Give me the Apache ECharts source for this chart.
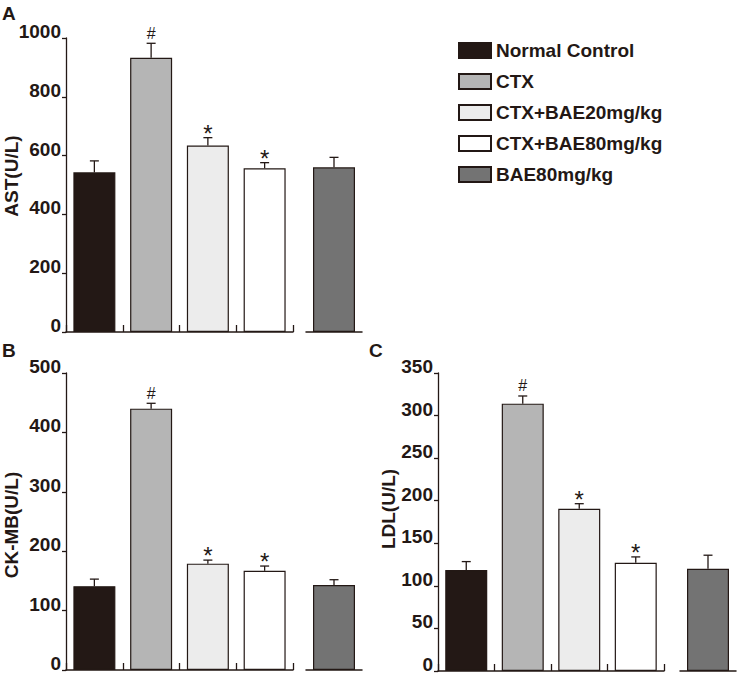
<!DOCTYPE html>
<html>
<head>
<meta charset="utf-8">
<script src="https://cdn.jsdelivr.net/npm/echarts@6/dist/echarts.min.js"></script>
<style>html,body{margin:0;padding:0;background:#fff}#c{width:738px;height:675px}</style>
</head>
<body>
<div id="c"></div>
<script>
// ---- data ----
const groups = ['Normal Control', 'CTX', 'CTX+BAE20mg/kg', 'CTX+BAE80mg/kg', 'BAE80mg/kg'];
const astValues = [543, 933, 634, 557, 560];
const astErrors = [39, 49, 27, 19, 34];
const ckmbValues = [141, 440, 179, 167, 143];
const ckmbErrors = [12, 9, 6, 8, 9];
const ldlValues = [118.5, 314, 190.5, 127, 120];
const ldlErrors = [10, 9, 6, 7, 16];
const marks = ['', '#', '*', '*', ''];
const panelLetters = ['A', 'B', 'C'];
const axisNames = ['AST(U/L)', 'CK-MB(U/L)', 'LDL(U/L)'];
const axisMax = [1000, 500, 350];
const axisStep = [200, 100, 50];

// ---- styles ----
const barColors = ['#231815', '#b5b5b5', '#ececec', '#ffffff', '#737373'];
const ink = '#231815';
const font = 'Liberation Sans, Arial, sans-serif';

const layouts = [
  { left: 66, top: 38, width: 227, height: 294, left2: 306, width2: 56, nameX: 11, nameY: 176, labelX: 2, labelY: 4 },
  { left: 66, top: 373, width: 227, height: 297, left2: 306, width2: 56, nameX: 11, nameY: 525, labelX: 2, labelY: 341 },
  { left: 438, top: 373, width: 226, height: 298, left2: 680, width2: 56, nameX: 388, nameY: 509, labelX: 369, labelY: 341 }
];
const panelData = [
  [astValues, astErrors],
  [ckmbValues, ckmbErrors],
  [ldlValues, ldlErrors]
];

const grid = [], xAxis = [], yAxis = [], series = [], title = [], graphic = [];

layouts.forEach((L, p) => {
  const [vals, errs] = panelData[p];
  const g1 = grid.length, g2 = g1 + 1;
  grid.push({ left: L.left, top: L.top, width: L.width, height: L.height, outerBoundsMode: 'none', containLabel: false });
  grid.push({ left: L.left2, top: L.top, width: L.width2, height: L.height, outerBoundsMode: 'none', containLabel: false });

  xAxis.push({
    type: 'category', gridIndex: g1, data: groups.slice(0, 4),
    axisLine: { lineStyle: { color: ink, width: 1.5 } },
    axisTick: { show: true, inside: true, length: 7, interval: 0, lineStyle: { color: ink, width: 1.3 } },
    axisLabel: { show: false }
  });
  xAxis.push({
    type: 'category', gridIndex: g2, data: groups.slice(4),
    axisLine: { lineStyle: { color: ink, width: 1.5 } },
    axisTick: { show: false }, axisLabel: { show: false }
  });

  const yCommon = { type: 'value', min: 0, max: axisMax[p], interval: axisStep[p], splitLine: { show: false } };
  yAxis.push(Object.assign({}, yCommon, {
    gridIndex: g1,
    axisLine: { show: true, lineStyle: { color: ink, width: 1.3 } },
    axisTick: { show: true, length: 4, lineStyle: { color: ink, width: 1.3 } },
    axisLabel: { fontFamily: font, fontSize: 19, fontWeight: 'bold', color: ink, margin: 5,
                 verticalAlign: 'bottom', lineHeight: 13, formatter: v => String(v) }
  }));
  yAxis.push(Object.assign({}, yCommon, { gridIndex: g2, show: false }));

  graphic.push({
    type: 'text', x: L.nameX, y: L.nameY, rotation: Math.PI / 2,
    style: { text: axisNames[p], fill: ink, fontFamily: font, fontSize: 19, fontWeight: 'bold', align: 'center', verticalAlign: 'middle' }
  });

  groups.forEach((name, i) => {
    const inFirst = i < 4;
    const data = inFirst ? groups.slice(0, 4).map((_, j) => (j === i ? vals[i] : '-')) : [vals[i]];
    series.push({
      type: 'bar', name: name,
      xAxisIndex: inFirst ? g1 : g2, yAxisIndex: inFirst ? g1 : g2,
      stack: 'panel' + p + (inFirst ? 'a' : 'b'),
      barWidth: 42, data: data,
      itemStyle: { color: barColors[i], borderColor: ink, borderWidth: 1.2 },
      emphasis: { disabled: true }
    });
  });

  const errSeries = (idxs, gi) => ({
    type: 'custom', xAxisIndex: gi, yAxisIndex: gi, z: 5, silent: true,
    data: idxs.map((i, k) => [k, vals[i], errs[i], i]),
    renderItem: (params, api) => {
      const x = api.value(0), v = api.value(1), e = api.value(2), gi2 = api.value(3);
      const b = api.coord([x, v]);
      const t = api.coord([x, v + e]);
      const children = [
        { type: 'line', shape: { x1: b[0], y1: b[1], x2: t[0], y2: t[1] }, style: { stroke: ink, lineWidth: 1.3 } },
        { type: 'line', shape: { x1: t[0] - 4.5, y1: t[1], x2: t[0] + 4.5, y2: t[1] }, style: { stroke: ink, lineWidth: 1.3 } }
      ];
      const m = marks[gi2];
      if (m) {
        const star = m === '*';
        children.push({
          type: 'text', x: t[0], y: star ? t[1] - 4.5 : t[1] - 10,
          style: { text: m, fill: ink, fontFamily: font, fontSize: star ? 24 : 16, align: 'center', verticalAlign: 'middle' }
        });
      }
      return { type: 'group', children: children };
    }
  });
  series.push(errSeries([0, 1, 2, 3], g1));
  series.push(errSeries([4], g2));

  title.push({
    text: panelLetters[p], left: L.labelX, top: L.labelY, padding: 0,
    textStyle: { fontFamily: font, fontSize: 19, fontWeight: 'bold', color: ink }
  });
});

const chart = echarts.init(document.getElementById('c'), null, { renderer: 'svg' });
chart.setOption({
  backgroundColor: '#fff',
  animation: false,
  title: title,
  graphic: graphic,
  legend: {
    data: groups, orient: 'vertical', left: 458, top: 41, padding: 0,
    icon: 'rect', itemWidth: 32, itemHeight: 15, itemGap: 12, selectedMode: false,
    textStyle: { fontFamily: font, fontSize: 19, fontWeight: 'bold', color: ink }
  },
  grid: grid, xAxis: xAxis, yAxis: yAxis, series: series
});
</script>
</body>
</html>
